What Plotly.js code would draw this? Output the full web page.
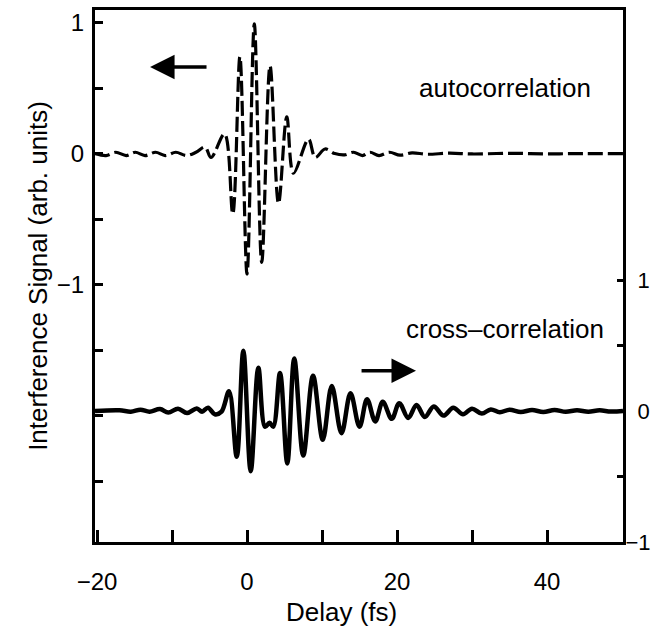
<!DOCTYPE html>
<html><head><meta charset="utf-8">
<script src="https://cdn.plot.ly/plotly-3.0.1.min.js"></script>
<style>html,body{margin:0;padding:0;background:#fff;} #chart{width:653px;height:630px;}</style>
</head><body><div id="chart"></div>
<script>
// Autocorrelation (left axis)
const autoDelay = [-20.27, -18.8, -17.5, -16.1, -14.9, -13.6, -12.2, -10.9, -9.5, -8.1, -6.8, -5.6, -4.8, -3.0, -1.9, -0.95, 0.0, 0.97, 1.96, 3.07, 4.2, 5.3, 6.2, 8.2, 9.1, 10.4, 11.7, 13.0, 14.2, 15.4, 16.4, 17.6, 19.0, 20.4, 22.0, 24.0, 27.0, 30.0, 35.0, 40.0, 45.0, 50.13];
const autoSignal = [0, -0.015, 0.01, -0.015, 0.01, -0.015, 0.01, -0.015, 0.01, -0.015, 0.01, 0.05, -0.03, 0.15, -0.46, 0.74, -0.92, 0.99, -0.83, 0.67, -0.38, 0.28, -0.15, 0.11, -0.03, 0.035, 0.0, -0.01, 0.01, -0.015, 0.01, -0.015, 0.01, -0.012, 0.005, -0.005, 0.003, -0.003, 0.002, -0.002, 0, 0];
// Cross-correlation (right axis)
const crossDelay = [-20.27, -17.0, -15.5, -14.2, -13.0, -11.6, -10.5, -9.2, -8.0, -6.7, -6.0, -5.2, -4.3, -3.4, -2.4, -1.37, -0.49, 0.49, 1.51, 2.4, 3.0, 3.5, 4.4, 5.37, 6.3, 7.5, 8.8, 10.1, 11.3, 12.6, 13.8, 15.0, 16.0, 17.1, 18.1, 19.3, 20.3, 21.5, 22.6, 23.7, 24.9, 26.2, 27.5, 28.8, 30.0, 31.3, 32.5, 33.7, 35.0, 36.5, 38.0, 39.5, 41.0, 42.5, 44.0, 45.5, 47.0, 48.5, 50.13];
const crossSignal = [0, 0.005, -0.005, 0.01, -0.005, 0.015, -0.012, 0.018, -0.015, 0.02, -0.005, 0.025, -0.025, -0.005, 0.15, -0.35, 0.46, -0.46, 0.33, -0.12, -0.09, -0.12, 0.29, -0.40, 0.40, -0.34, 0.27, -0.22, 0.19, -0.17, 0.135, -0.12, 0.09, -0.08, 0.07, -0.06, 0.06, -0.053, 0.046, -0.045, 0.035, -0.035, 0.025, -0.025, 0.018, -0.02, 0.012, -0.01, 0.01, -0.008, 0.008, -0.008, 0.008, -0.006, 0.006, -0.006, 0.005, -0.004, 0];

const xTickVals = [-20, -10, 0, 10, 20, 30, 40];
const xTickText = ['\u221220', '', '0', '', '20', '', '40'];
const leftTickVals = [1, 0.5, 0, -0.5, -1, -1.5, -2, -2.5];
const leftTickText = ['1', '', '0', '', '\u22121', '', '', ''];
const rightTickVals = [1, 0.5, 0, -0.5, -1];
const rightTickText = ['\u00a0\u00a01', '', '\u00a0\u00a00', '', '\u22121'];

const labelAuto = 'autocorrelation';
const labelCross = 'cross\u2013correlation';
const xTitle = 'Delay (fs)';
const yTitle = 'Interference Signal (arb. units)';

const FONT = 'Liberation Sans, Arial, Helvetica, sans-serif';

const traces = [
  {x: autoDelay, y: autoSignal, type: 'scatter', mode: 'lines', yaxis: 'y',
   line: {color: '#000', width: 3.2, dash: '15px,5px', shape: 'spline', smoothing: 1}, hoverinfo: 'skip'},
  {x: crossDelay, y: crossSignal, type: 'scatter', mode: 'lines', yaxis: 'y2',
   line: {color: '#000', width: 4.5, shape: 'spline', smoothing: 1}, hoverinfo: 'skip'}
];

const layout = {
  width: 653, height: 630,
  margin: {l: 95, r: 30, t: 10, b: 88},
  paper_bgcolor: '#fff', plot_bgcolor: '#fff',
  showlegend: false,
  font: {family: FONT, color: '#000', size: 24},
  xaxis: {
    range: [-20.27, 50.13], tickmode: 'array', tickvals: xTickVals, ticktext: xTickText,
    ticks: 'inside', ticklen: 12, tickwidth: 3, tickcolor: '#000',
    showline: true, linewidth: 3, linecolor: '#000', mirror: true,
    showgrid: false, zeroline: false, ticklabelstandoff: 16,
    tickfont: {size: 24}
  },
  yaxis: {
    range: [-2.965, 1.096], tickmode: 'array', tickvals: leftTickVals, ticktext: leftTickText,
    ticks: 'inside', ticklen: 8, tickwidth: 3, tickcolor: '#000',
    showline: true, linewidth: 3, linecolor: '#000',
    showgrid: false, zeroline: false, ticklabelstandoff: 3,
    tickfont: {size: 24},
    title: {text: yTitle, font: {size: 26}, standoff: 2}
  },
  yaxis2: {
    range: [-1, 3.061], overlaying: 'y', side: 'right', tickmode: 'array',
    tickvals: rightTickVals, ticktext: rightTickText,
    ticks: 'inside', ticklen: 6, tickwidth: 3, tickcolor: '#000',
    showline: true, linewidth: 3, linecolor: '#000',
    showgrid: false, zeroline: false, ticklabelstandoff: -5,
    tickfont: {size: 22}
  },
  annotations: [
    {x: 0.467, y: 612, xref: 'paper', yref: 'paper', text: xTitle, showarrow: false,
     font: {size: 26, family: FONT, color: '#000'}, xanchor: 'center', yanchor: 'middle'},
    {x: 34.4, y: 0.50, xref: 'x', yref: 'y', text: labelAuto, showarrow: false,
     font: {size: 26, family: FONT, color: '#000'}, xanchor: 'center', yanchor: 'middle'},
    {x: 34.4, y: 0.626, xref: 'x', yref: 'y2', text: labelCross, showarrow: false,
     font: {size: 26, family: FONT, color: '#000'}, xanchor: 'center', yanchor: 'middle'},
    {x: -12.93, y: 0.661, ax: -5.2, ay: 0.661, xref: 'x', yref: 'y', axref: 'x', ayref: 'y',
     text: '', showarrow: true, arrowhead: 2, arrowsize: 1.4, arrowwidth: 3.5, arrowcolor: '#000', standoff: 0},
    {x: 22.53, y: 0.308, ax: 15.07, ay: 0.308, xref: 'x', yref: 'y2', axref: 'x', ayref: 'y2',
     text: '', showarrow: true, arrowhead: 2, arrowsize: 1.4, arrowwidth: 3.5, arrowcolor: '#000', standoff: 0}
  ]
};
// x title position: convert pixel row 612 to paper units
layout.annotations[0].y = (630 - layout.margin.b - 612) / (630 - layout.margin.t - layout.margin.b);

Plotly.newPlot('chart', traces, layout, {staticPlot: true, displayModeBar: false});
</script>
</body></html>
